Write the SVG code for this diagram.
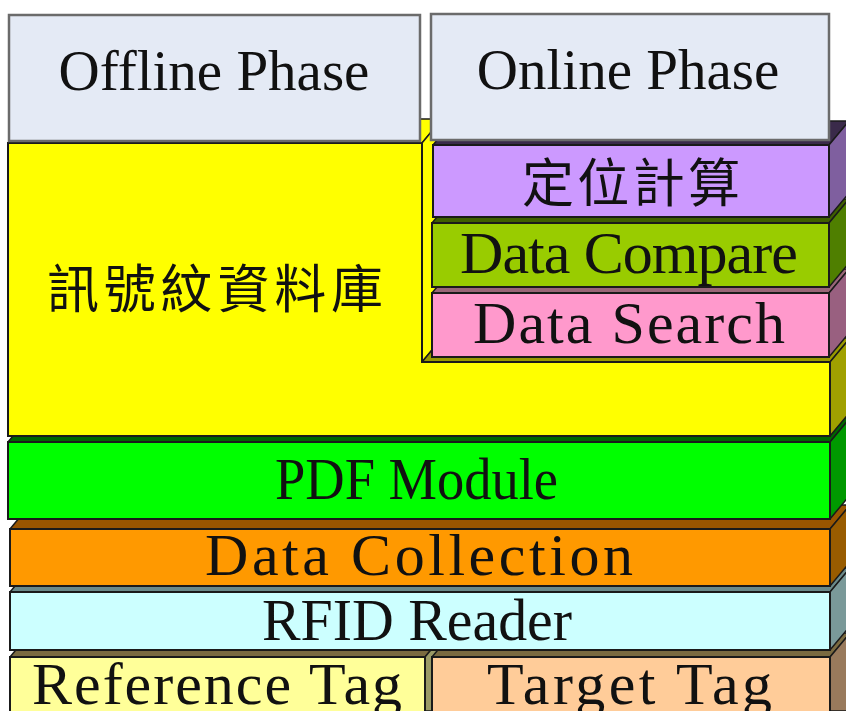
<svg xmlns="http://www.w3.org/2000/svg" width="846" height="711" viewBox="0 0 846 711">
<style>
.front{stroke:#1a1a1a;stroke-width:2}
.face{stroke:#1a1a1a;stroke-width:1.5;stroke-linejoin:round}
.phase{fill:#E4EAF5;stroke:#6b6b6b;stroke-width:2.5}
.ph{font-family:"Liberation Serif",serif;font-size:57px;fill:#111;text-anchor:middle}
.lb{font-family:"Liberation Serif",serif;font-size:60px;fill:#111}
.cjk{font-family:"Liberation Serif","Noto Sans CJK TC",serif;font-size:52px;fill:#111}
</style>
<rect width="846" height="711" fill="#ffffff"/>

<g id="tags">
  <g id="reference-tag">
    <polygon class="face" points="10,657 30,633 445,633 425,657" fill="#7A6A40"/>
    <polygon class="face" points="425,657 445,633 445,711 425,711" fill="#9A9A66"/>
    <rect class="front" x="10" y="657" width="415" height="60" fill="#FFFF99"/>
    <text class="lb" x="32" y="704" textLength="370">Reference Tag</text>
  </g>
  <g id="target-tag">
    <polygon class="face" points="432,657 452,633 850,633 830,657" fill="#7A6A40"/>
    <polygon class="face" points="830,657 850,633 850,711 830,711" fill="#997A5C"/>
    <rect class="front" x="432" y="657" width="398" height="60" fill="#FFCC99"/>
    <text class="lb" x="487" y="704" textLength="285">Target Tag</text>
  </g>
</g>

<g id="rfid-reader">
  <polygon class="face" points="10,592 30,568 850,568 830,592" fill="#6A8A8A"/>
  <polygon class="face" points="830,592 850,568 850,626 830,650" fill="#7A9999"/>
  <rect class="front" x="10" y="592" width="820" height="58" fill="#CCFFFF"/>
  <text class="lb" x="262" y="640" textLength="310" lengthAdjust="spacingAndGlyphs">RFID Reader</text>
</g>

<g id="data-collection">
  <polygon class="face" points="10,529 30,505 850,505 830,529" fill="#995500"/>
  <polygon class="face" points="830,529 850,505 850,562 830,586" fill="#995C00"/>
  <rect class="front" x="10" y="529" width="820" height="57" fill="#FF9900"/>
  <text class="lb" x="205" y="575" textLength="428">Data Collection</text>
</g>

<g id="pdf-module">
  <polygon class="face" points="8,442 28,418 850,418 830,442" fill="#006600"/>
  <polygon class="face" points="830,442 850,418 850,495 830,519" fill="#009900"/>
  <rect class="front" x="8" y="442" width="822" height="77" fill="#00FF00"/>
  <text class="lb" x="275" y="499" textLength="283" lengthAdjust="spacingAndGlyphs">PDF Module</text>
</g>

<g id="fingerprint-db">
  <polygon class="face" points="8,143 28,119 442,119 422,143" fill="#FFFF00"/>
  <polygon class="face" points="422,143 442,119 442,338 422,362" fill="#FFFF00"/>
  <polygon class="face" points="422,362 442,338 850,338 830,362" fill="#999900"/>
  <polygon class="face" points="830,362 850,338 850,412 830,436" fill="#A0A000"/>
  <polygon class="front" points="8,143 422,143 422,362 830,362 830,436 8,436" fill="#FFFF00"/>
  <text class="cjk" x="47" y="308" textLength="336">訊號紋資料庫</text>
</g>

<g id="data-search">
  <polygon class="face" points="432,293 452,269 849,269 829,293" fill="#996677"/>
  <polygon class="face" points="829,293 849,269 849,333 829,357" fill="#996080"/>
  <rect class="front" x="432" y="293" width="397" height="64" fill="#FF99CC"/>
  <text class="lb" x="473" y="343" textLength="312">Data Search</text>
</g>

<g id="data-compare">
  <polygon class="face" points="432,223 452,199 849,199 829,223" fill="#3F5F00"/>
  <polygon class="face" points="829,223 849,199 849,263 829,287" fill="#4F7F00"/>
  <rect class="front" x="432" y="223" width="397" height="64" fill="#99CC00"/>
  <text class="lb" x="460" y="273" textLength="338">Data Compare</text>
</g>

<g id="positioning">
  <polygon class="face" points="433,145 453,121 849,121 829,145" fill="#3A2A4A"/>
  <polygon class="face" points="829,145 849,121 849,193 829,217" fill="#7F5F9F"/>
  <rect class="front" x="433" y="145" width="396" height="72" fill="#CC99FF"/>
  <text class="cjk" x="522" y="202" textLength="218">定位計算</text>
</g>

<g id="offline-phase">
  <rect class="phase" x="9" y="15" width="411" height="126"/>
  <text class="ph" x="214" y="90">Offline Phase</text>
</g>

<g id="online-phase">
  <rect class="phase" x="431" y="14" width="398" height="126"/>
  <text class="ph" x="628" y="89">Online Phase</text>
</g>
</svg>
